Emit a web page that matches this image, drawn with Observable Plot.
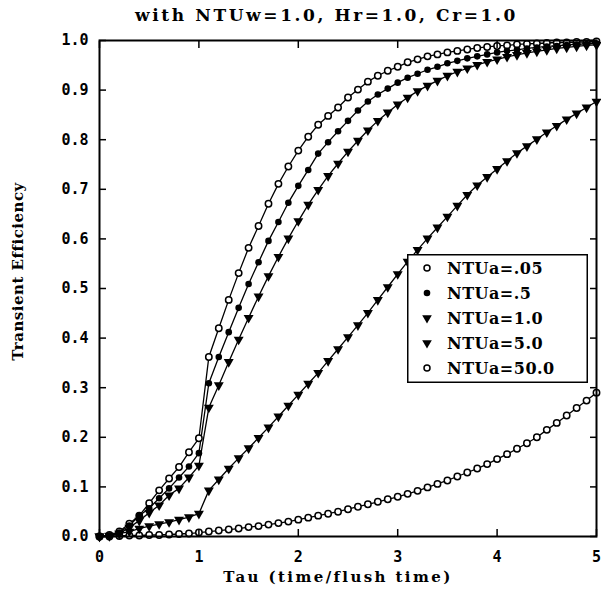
<!DOCTYPE html>
<html><head><meta charset="utf-8">
<script src="https://cdn.jsdelivr.net/npm/d3@7"></script>
<script src="https://cdn.jsdelivr.net/npm/@observablehq/plot@0.6"></script>
<style>
body{margin:0;background:#fff;width:601px;height:605px;overflow:hidden;position:relative;}
#title{position:absolute;left:26px;top:4px;width:601px;text-align:center;font-family:"DejaVu Serif",serif;font-weight:bold;font-size:17px;letter-spacing:2.6px;line-height:22px;color:#000;}
#chart{position:absolute;left:0;top:30px;}
#legend{position:absolute;left:407px;top:254px;}
</style></head><body>
<div id="title"></div>
<div id="chart"></div>
<div id="legend"></div>
<script>
const tau = [0,0.1,0.2,0.3,0.4,0.5,0.6,0.7,0.8,0.9,1.0,1.1,1.2,1.3,1.4,1.5,1.6,1.7,1.8,1.9,2.0,2.1,2.2,2.3,2.4,2.5,2.6,2.7,2.8,2.9,3.0,3.1,3.2,3.3,3.4,3.5,3.6,3.7,3.8,3.9,4.0,4.1,4.2,4.3,4.4,4.5,4.6,4.7,4.8,4.9,5.0];
const ntu005 = [0,0.003,0.01,0.026,0.042,0.067,0.093,0.117,0.14,0.17,0.198, 0.362,0.42,0.477,0.531,0.582,0.626,0.671,0.711,0.746,0.778, 0.806,0.83,0.848,0.865,0.885,0.901,0.917,0.929,0.939,0.947, 0.956,0.962,0.968,0.972,0.976,0.979,0.982,0.985,0.987,0.989, 0.99,0.992,0.993,0.994,0.995,0.996,0.996,0.997,0.997,0.998];
const ntu05 = [0,0.002,0.008,0.022,0.042,0.057,0.077,0.097,0.119,0.141,0.168, 0.309,0.362,0.412,0.461,0.509,0.553,0.596,0.634,0.673,0.707, 0.739,0.772,0.795,0.817,0.838,0.859,0.877,0.891,0.903,0.915, 0.925,0.933,0.941,0.947,0.954,0.959,0.964,0.968,0.972,0.976, 0.979,0.981,0.984,0.986,0.988,0.989,0.991,0.992,0.993,0.994];
const ntu1 = [0,0.001,0.006,0.018,0.032,0.048,0.063,0.083,0.097,0.119,0.143, 0.26,0.305,0.352,0.397,0.441,0.484,0.525,0.564,0.601,0.636, 0.669,0.699,0.727,0.752,0.776,0.798,0.819,0.838,0.855,0.871, 0.885,0.898,0.909,0.919,0.929,0.937,0.944,0.951,0.957,0.962, 0.967,0.971,0.975,0.978,0.981,0.984,0.986,0.988,0.99,0.991];
const ntu5 = [0,0.002,0.006,0.01,0.016,0.021,0.025,0.029,0.034,0.039,0.046, 0.093,0.115,0.137,0.158,0.178,0.199,0.22,0.242,0.264,0.286, 0.308,0.33,0.354,0.378,0.402,0.426,0.451,0.477,0.503,0.529, 0.554,0.578,0.601,0.623,0.645,0.667,0.689,0.708,0.725,0.741, 0.757,0.773,0.787,0.801,0.815,0.828,0.841,0.853,0.865,0.877];
const ntu50 = [0,0,0.001,0.002,0.002,0.003,0.003,0.004,0.005,0.006,0.008, 0.01,0.012,0.014,0.016,0.019,0.021,0.024,0.027,0.03,0.034, 0.038,0.042,0.046,0.05,0.055,0.06,0.065,0.07,0.075,0.08, 0.086,0.092,0.099,0.106,0.113,0.121,0.129,0.137,0.146,0.156, 0.166,0.177,0.188,0.2,0.215,0.229,0.244,0.259,0.274,0.29];
const seriesNames = ["NTUa=.05","NTUa=.5","NTUa=1.0","NTUa=5.0","NTUa=50.0"];
const seriesValues = [ntu005, ntu05, ntu1, ntu5, ntu50];
const seriesMarker = ["open","filled","triangle","triangle","open"];
const xTicks = [0,1,2,3,4,5];
const yTicks = [0,0.1,0.2,0.3,0.4,0.5,0.6,0.7,0.8,0.9,1.0];
const titleText = "with NTUw=1.0, Hr=1.0, Cr=1.0";
const xLabel = "Tau (time/flush time)";
const yLabel = "Transient Efficiency";

const rows = [];
seriesNames.forEach((name, s) => seriesValues[s].forEach((v, i) => rows.push({tau: tau[i], eff: v, name, marker: seriesMarker[s]})));
const openRows = rows.filter(d => d.marker === "open");
const filledRows = rows.filter(d => d.marker === "filled");
const triRows = rows.filter(d => d.marker === "triangle");

const numFont = "DejaVu Sans Mono";
const txtFont = "DejaVu Serif";

const chart = Plot.plot({
  width: 601, height: 575,
  marginLeft: 99, marginRight: 5, marginTop: 10, marginBottom: 69,
  x: {domain: [0, 5]},
  y: {domain: [0, 1]},
  style: {background: "#fff", color: "#000"},
  marks: [
    Plot.line(rows, {x: "tau", y: "eff", z: "name", stroke: "#000", strokeWidth: 1.3}),
    Plot.dot(openRows, {x: "tau", y: "eff", r: 3.2, fill: "#fff", stroke: "#000", strokeWidth: 1.5}),
    Plot.dot(filledRows, {x: "tau", y: "eff", r: 3.3, fill: "#000", stroke: "none"}),
    Plot.dot(triRows, {x: "tau", y: "eff", symbol: "triangle", rotate: 180, r: 3.7, fill: "#000", stroke: "none"}),
    Plot.frame({stroke: "#000", strokeWidth: 2}),
    Plot.axisX({anchor: "bottom", ticks: xTicks, tickSize: -7, tickPadding: 22, tickFormat: d => String(d), label: null, fontSize: 15, fontWeight: "bold", fontFamily: numFont, strokeWidth: 1.5}),
    Plot.axisX({anchor: "top", ticks: xTicks, tickSize: -7, tickFormat: () => "", label: null, strokeWidth: 1.5}),
    Plot.axisY({anchor: "left", ticks: yTicks, tickSize: -7, tickPadding: 18, tickFormat: d => d.toFixed(1), label: null, fontSize: 15, fontWeight: "bold", fontFamily: numFont, strokeWidth: 1.5}),
    Plot.axisY({anchor: "right", ticks: yTicks, tickSize: -7, tickFormat: () => "", label: null, strokeWidth: 1.5}),
    Plot.text([xLabel], {text: d => d, frameAnchor: "bottom", dx: -10, dy: 41, lineAnchor: "middle", textAnchor: "middle", fontSize: 15, fontWeight: "bold", fontFamily: txtFont}),
    Plot.text([yLabel], {text: d => d, frameAnchor: "left", rotate: -90, dx: -81, dy: -17, lineAnchor: "middle", textAnchor: "middle", fontSize: 15, fontWeight: "bold", fontFamily: txtFont})
  ]
});
chart.querySelectorAll("text").forEach(t => { if (t.textContent === yLabel) t.setAttribute("letter-spacing", "0.5px"); if (t.textContent === xLabel) t.setAttribute("letter-spacing", "2.4px"); });
document.getElementById("chart").appendChild(chart);
document.getElementById("title").textContent = titleText;

// legend
const lw = 181, lh = 129;
const lg = d3.select("#legend").append("svg").attr("width", lw).attr("height", lh);
lg.append("rect").attr("x", 0.75).attr("y", 0.75).attr("width", lw - 1.5).attr("height", lh - 1.5).attr("fill", "#fff").attr("stroke", "#000").attr("stroke-width", 1.5);
seriesNames.forEach((name, i) => {
  const cy = 14 + i * 25;
  const m = seriesMarker[i];
  if (m === "open") lg.append("circle").attr("cx", 20).attr("cy", cy).attr("r", 3).attr("fill", "#fff").attr("stroke", "#000").attr("stroke-width", 1.5);
  else if (m === "filled") lg.append("circle").attr("cx", 20).attr("cy", cy).attr("r", 3.3).attr("fill", "#000");
  else lg.append("path").attr("d", d3.symbol(d3.symbolTriangle, 40)()).attr("transform", `translate(20,${cy}) rotate(180)`).attr("fill", "#000");
  lg.append("text").attr("x", 40).attr("y", cy).attr("dy", "0.36em").attr("font-family", txtFont).attr("font-weight", "bold").attr("font-size", 16).attr("letter-spacing", "0.5px").text(name);
});
</script>
</body></html>
